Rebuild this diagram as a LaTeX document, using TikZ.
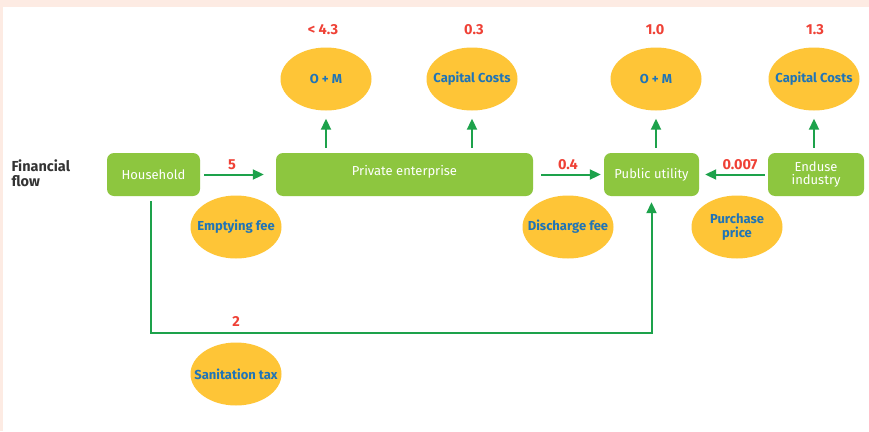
\documentclass[tikz,border=0pt]{standalone}
\usepackage{fontspec}
\setmainfont{Fira Sans}
\usetikzlibrary{arrows.meta,shapes.geometric,positioning}

\definecolor{boxgreen}{HTML}{8DC63F}
\definecolor{flowgreen}{HTML}{1DA24B}
\definecolor{costyellow}{HTML}{FEC537}
\definecolor{labelblue}{HTML}{1F74B7}
\definecolor{amountred}{HTML}{EF4136}
\definecolor{framepink}{HTML}{FDEBE3}
\definecolor{titlegray}{HTML}{333333}

\tikzset{
  actor/.style={fill=boxgreen, rounded corners=7pt, text=white, font=\fontsize{13}{13}\selectfont, minimum height=43pt, align=center, inner sep=0pt},
  cost/.style={ellipse, fill=costyellow, minimum width=91pt, minimum height=63pt, inner xsep=-20pt, inner ysep=0pt, text=labelblue, font=\bfseries\fontsize{13}{13.5}\selectfont, align=center},
  amount/.style={text=amountred, font=\bfseries\fontsize{14.5}{15}\selectfont},
  flow/.style={draw=flowgreen, line width=2pt, -{Triangle[length=11pt,width=10pt]}},
}

\begin{document}
\begin{tikzpicture}[x=1pt,y=-1pt]
            \fill[framepink] (0,0) rectangle (869,431);
            \fill[white] (3,7) rectangle (869,431);
            \useasboundingbox (0,0) rectangle (869,431);

            \node[font=\bfseries\fontsize{14.5}{15}\selectfont, text=titlegray, align=left, anchor=west] (title) at (8,173) {Financial\\flow};

            \node[actor, minimum width=93pt] (household) at (153.5,174.5) {Household};
            \node[actor, minimum width=257pt, text depth=9pt] (private) at (404.5,174.5) {Private enterprise};
            \node[actor, minimum width=95pt] (public) at (651.5,174.5) {Public utility};
            \node[actor, minimum width=96pt] (enduse) at (816,174.5) {Enduse\\industry};

            \node[cost] (om1) at (326,79) {O + M};
            \node[cost] (cap1) at (472,79) {Capital Costs};
            \node[cost] (om2) at (656,79) {O + M};
            \node[cost] (cap2) at (814,79) {Capital Costs};
            \node[cost] (emptying) at (236,227) {Emptying fee};
            \node[cost] (discharge) at (568,227) {Discharge fee};
            \node[cost] (purchase) at (737,227) {Purchase\\price};
            \node[cost] (sanitation) at (236,374) {Sanitation tax};

            \node[amount] (amt1) at (323,30) {< 4.3};
            \node[amount] (amt2) at (474,30) {0.3};
            \node[amount] (amt3) at (655,30) {1.0};
            \node[amount] (amt4) at (815,30) {1.3};
            \node[amount] (amt5) at (232,165) {5};
            \node[amount] (amt6) at (568,165) {0.4};
            \node[amount] (amt7) at (740,165) {0.007};
            \node[amount] (amt8) at (236,321) {2};

            \coordinate (taxline) at (0,333);

            \draw[flow, shorten <=5pt, shorten >=8pt] (om1 |- private.north) -- (om1.south);
            \draw[flow, shorten <=5pt, shorten >=8pt] (cap1 |- private.north) -- (cap1.south);
            \draw[flow, shorten <=5pt, shorten >=8pt] (om2 |- public.north) -- (om2.south);
            \draw[flow, shorten <=5pt, shorten >=8pt] (cap2 |- enduse.north) -- (cap2.south);

            \draw[flow, shorten <=4pt, shorten >=12pt] (household) -- (private);
            \draw[flow, shorten <=8pt, shorten >=3pt] (private) -- (public);
            \draw[flow, shorten <=3pt, shorten >=6pt] (enduse) -- (public);
            \draw[flow, shorten <=5pt, shorten >=6pt] ([xshift=-2.5pt]household.south) -- ([xshift=-2.5pt]household.south |- taxline) -| (public.south);
\end{tikzpicture}
\end{document}
